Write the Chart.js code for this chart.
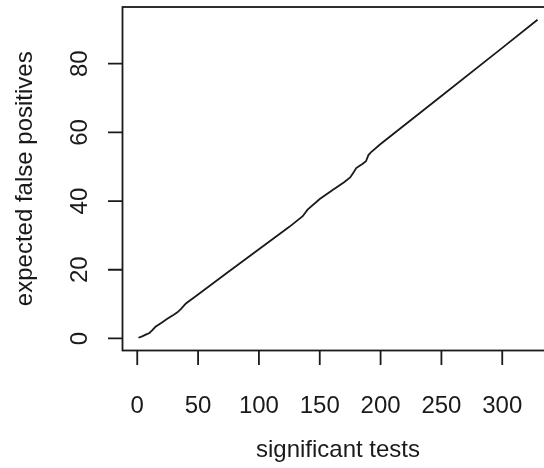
<!DOCTYPE html>
<html>
<head>
<meta charset="utf-8">
<script src="https://cdn.jsdelivr.net/npm/chart.js@4.4.1/dist/chart.umd.min.js"></script>
<style>
html,body{margin:0;padding:0;background:#fff;overflow:hidden;width:544px;height:468px;}
#wrap{position:absolute;left:0;top:0;width:556px;height:468px;}
</style>
</head>
<body>
<div id="wrap"><canvas id="c" width="556" height="468"></canvas></div>
<script>
// Data
const significantTests = [1, 4, 7, 10, 12, 15, 20, 25, 30, 33, 36, 40, 50, 75, 100, 125, 136, 140, 150, 160, 170, 175, 178, 180, 185, 188, 190, 192, 200, 250, 300, 329];
const expectedFalsePositives = [0.2, 0.6, 1.1, 1.6, 2.3, 3.4, 4.6, 5.8, 6.9, 7.6, 8.6, 10.2, 12.8, 19.4, 26.0, 32.5, 35.6, 37.5, 40.6, 43.1, 45.5, 46.9, 48.5, 49.6, 50.8, 51.6, 53.4, 54.2, 56.6, 70.6, 84.6, 92.8];
const xTicks = [0, 50, 100, 150, 200, 250, 300];
const yTicks = [0, 20, 40, 60, 80];
const xTitle = "significant tests";
const yTitle = "expected false positives";

const points = significantTests.map((x, i) => ({x: x, y: expectedFalsePositives[i]}));

function rExt(arr) {
  const mn = Math.min(...arr), mx = Math.max(...arr);
  const e = (mx - mn) * 0.04;
  return [mn - e, mx + e];
}
const xr = rExt(significantTests);
const yr = rExt(expectedFalsePositives);

const FONT = '24px "Liberation Sans", Arial, Helvetica, sans-serif';
const INK = '#1a1a1a';

const rAxes = {
  id: 'rAxes',
  afterDraw(chart) {
    const ctx = chart.ctx;
    const a = chart.chartArea;
    const xs = chart.scales.x, ys = chart.scales.y;
    ctx.save();
    ctx.strokeStyle = INK;
    ctx.lineWidth = 1.8;
    // box
    ctx.strokeRect(a.left, a.top, a.right - a.left, a.bottom - a.top);
    // x ticks
    ctx.beginPath();
    xTicks.forEach(v => {
      const px = xs.getPixelForValue(v);
      ctx.moveTo(px, a.bottom);
      ctx.lineTo(px, a.bottom + 14.5);
    });
    yTicks.forEach(v => {
      const py = ys.getPixelForValue(v);
      ctx.moveTo(a.left, py);
      ctx.lineTo(a.left - 14.5, py);
    });
    ctx.stroke();
    ctx.fillStyle = INK;
    ctx.font = FONT;
    ctx.textAlign = 'center';
    ctx.textBaseline = 'alphabetic';
    xTicks.forEach(v => {
      ctx.fillText(String(v), xs.getPixelForValue(v), 413);
    });
    yTicks.forEach(v => {
      ctx.save();
      ctx.translate(87, ys.getPixelForValue(v));
      ctx.rotate(-Math.PI / 2);
      ctx.fillText(String(v), 0, 0);
      ctx.restore();
    });
    // titles
    ctx.fillText(xTitle, (a.left + a.right) / 2, 457);
    ctx.save();
    ctx.translate(32, (a.top + a.bottom) / 2);
    ctx.rotate(-Math.PI / 2);
    ctx.fillText(yTitle, 0, 0);
    ctx.restore();
    ctx.restore();
  }
};

new Chart(document.getElementById('c'), {
  type: 'line',
  data: {
    datasets: [{
      data: points,
      borderColor: INK,
      borderWidth: 1.8,
      pointRadius: 0,
      fill: false,
      tension: 0
    }]
  },
  options: {
    responsive: false,
    animation: false,
    devicePixelRatio: 1,
    layout: {padding: {top: 7, left: 0, right: 2.5, bottom: 0}},
    plugins: {legend: {display: false}, tooltip: {enabled: false}},
    scales: {
      x: {
        type: 'linear', min: xr[0], max: xr[1],
        grid: {display: false, drawTicks: false}, border: {display: false},
        ticks: {display: false},
        afterFit(s) { s.height = 117.5; }
      },
      y: {
        type: 'linear', min: yr[0], max: yr[1],
        grid: {display: false, drawTicks: false}, border: {display: false},
        ticks: {display: false},
        afterFit(s) { s.width = 122.5; }
      }
    }
  },
  plugins: [rAxes]
});
</script>
</body>
</html>
